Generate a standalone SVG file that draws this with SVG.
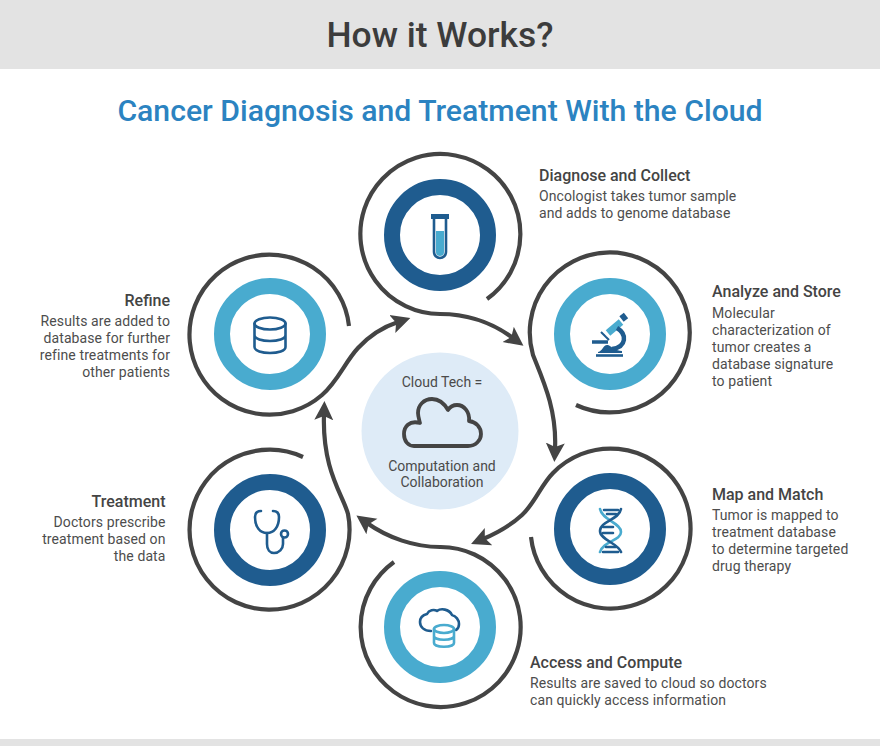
<svg xmlns="http://www.w3.org/2000/svg" width="880" height="746" viewBox="0 0 880 746">
<style>
text{font-family:Roboto,"Liberation Sans",sans-serif;fill:#414141}
.h{font-size:16px;font-weight:500;fill:#444}
.b{font-size:14px;letter-spacing:.1px;fill:#4d4d4d}
.r{text-anchor:end}
.c{text-anchor:middle;font-size:14px;fill:#4a4a4a}
.sp{fill:none;stroke:#444;stroke-width:4.200;marker-end:url(#arrow)}
.rd{fill:#fff;stroke:#1f5c8f;stroke-width:16}
.rl{fill:#fff;stroke:#49abcf;stroke-width:16}
.d{fill:none;stroke:#1f5c8f;stroke-width:2.600;stroke-linecap:round;stroke-linejoin:round}
.l{fill:none;stroke:#49abcf;stroke-width:2.600;stroke-linecap:round;stroke-linejoin:round}
</style>
<defs>
<marker id="arrow" markerUnits="userSpaceOnUse" viewBox="0 0 20 20" refX="6" refY="10" markerWidth="20" markerHeight="20" orient="auto">
<path d="M0 0.500L19 10L0 19.500L4 10Z" fill="#444"/>
</marker>
</defs>
<rect width="880" height="69" fill="#e3e3e3"/>
<rect y="739" width="880" height="7" fill="#e3e3e3"/>
<text x="440" y="47" text-anchor="middle" font-size="35.400" font-weight="500" style="fill:#3c3c3c">How it Works?</text>
<text x="440" y="121" text-anchor="middle" font-size="30.200" font-weight="500" style="fill:#2b83c1">Cancer Diagnosis and Treatment With the Cloud</text>
<g id="connectors">
<path class="sp" d="M487 299A80 80 0 1 0 440 314C465 314 490 321 513 338"/>
<path class="sp" d="M576 405A80 80 0 1 0 533 355C543 380 557 410 555 449"/>
<path class="sp" d="M531 537A80 80 0 1 0 553 473C541 485 535 503 522 515C510 526 497 533 483 539"/>
<path class="sp" d="M394 562A80 80 0 1 0 440 547C415 547 388 538 367 523"/>
<path class="sp" d="M303 457A80 80 0 1 0 348 514C343 495 322 470 324 414"/>
<path class="sp" d="M349 326A80 80 0 1 0 322 395C338 381 345 362 358 348C370 335 383 327 398 322"/>
</g>
<g id="center">
<circle cx="440" cy="431" r="78.500" fill="#deebf7"/>
<text class="c" x="442" y="387">Cloud Tech =</text>
<path d="M414 446H468C476 446 481 440 481 434C481 427 476 422 469 421C470 412 464 405 457 405C453 405 450 407 448 410C444 403 438 399 432 399C424 399 418 405 418 413C418 416 419 419 420 423C409 420 404 427 404 434C404 441 408 446 414 446Z" fill="none" stroke="#444" stroke-width="3.800" stroke-linejoin="round"/>
<text class="c" x="442" y="471">Computation and</text>
<text class="c" x="442" y="487">Collaboration</text>
</g>
<g id="diagnose">
<circle class="rd" cx="440" cy="235" r="48"/>
<rect x="431" y="214" width="18" height="5" fill="#1f5c8f"/>
<path d="M436 231H444V252A4 4 0 0 1 436 252Z" fill="#49abcf"/>
<path class="d" d="M434 219V252A6 6 0 0 0 446 252V219"/>
<text class="h" x="539" y="181">Diagnose and Collect</text>
<text class="b" x="539" y="201">Oncologist takes tumor sample</text>
<text class="b" x="539" y="218">and adds to genome database</text>
</g>
<g id="analyze">
<circle class="rl" cx="610" cy="334" r="48"/>
<path d="M608 333L621 322" stroke="#49abcf" stroke-width="7" fill="none"/>
<path d="M621.500 319L626 315.500" stroke="#1f5c8f" stroke-width="7" fill="none"/>
<path d="M604 335L609 340M601 332L606 337" stroke="#1f5c8f" stroke-width="2" fill="none"/>
<path d="M617 328C627 334 627 347 612 349" stroke="#1f5c8f" stroke-width="4.500" fill="none"/>
<path d="M592 342H608" stroke="#1f5c8f" stroke-width="3.500"/>
<path d="M598 352C603 351 603 344 608 345C612 347 616 351 622 351V353H598Z" fill="#1f5c8f"/>
<path d="M596 355.500H623" stroke="#1f5c8f" stroke-width="2.600"/>
<text class="h" x="712" y="297">Analyze and Store</text>
<text class="b" x="712" y="318">Molecular</text>
<text class="b" x="712" y="335">characterization of</text>
<text class="b" x="712" y="352">tumor creates a</text>
<text class="b" x="712" y="369">database signature</text>
<text class="b" x="712" y="386">to patient</text>
</g>
<g id="map">
<circle class="rd" cx="610" cy="529" r="48"/>
<path class="l" d="M600 509C602 520 621 523 621 532C621 541 603 541 600 552"/>
<path class="d" d="M621 509C619 520 600 521 600 531C600 540 618 543 621 552"/>
<path class="d" stroke-width="2" d="M604 510H618M607 514H616M603 527H613M603 533H613M606 547H616M603 552H618"/>
<text class="h" x="712" y="500">Map and Match</text>
<text class="b" x="712" y="520">Tumor is mapped to</text>
<text class="b" x="712" y="537">treatment database</text>
<text class="b" x="712" y="554">to determine targeted</text>
<text class="b" x="712" y="571">drug therapy</text>
</g>
<g id="access">
<circle class="rl" cx="440" cy="627" r="48"/>
<path class="d" d="M431 631C424 631 420 627 420 622C420 618 423 615 427 614C429 610 434 609 437 611C441 608 449 609 452 615C456 616 459 620 459 624C459 627 458 629 456 630"/>
<ellipse class="l" cx="444" cy="629" rx="10" ry="4"/>
<path class="l" d="M434 629V643C434 648 454 648 454 643V629M434 636C434 641 454 641 454 636"/>
<text class="h" x="530" y="668">Access and Compute</text>
<text class="b" x="530" y="688">Results are saved to cloud so doctors</text>
<text class="b" x="530" y="705">can quickly access information</text>
</g>
<g id="treatment">
<circle class="rd" cx="270" cy="530" r="48"/>
<path class="d" d="M261 511C257 511 255 513 255 517C255 527 260 533 267 533C274 533 279 527 279 517C279 513 277 511 273 511"/>
<path class="d" d="M267 533V544C267 550 270 553 274 553C279 553 283 549 283 544V538"/>
<circle class="d" cx="284.500" cy="534" r="3.500"/>
<text class="h r" x="165.500" y="507">Treatment</text>
<text class="b r" x="165.500" y="527">Doctors prescribe</text>
<text class="b r" x="165.500" y="544">treatment based on</text>
<text class="b r" x="165.500" y="561">the data</text>
</g>
<g id="refine">
<circle class="rl" cx="270" cy="334" r="48"/>
<ellipse class="d" cx="270" cy="323.500" rx="15.500" ry="6"/>
<path class="d" d="M254.500 323.500V347C254.500 355 285.500 355 285.500 347V323.500M254.500 335C254.500 343 285.500 343 285.500 335"/>
<text class="h r" x="170" y="306">Refine</text>
<text class="b r" x="170" y="326">Results are added to</text>
<text class="b r" x="170" y="343">database for further</text>
<text class="b r" x="170" y="360">refine treatments for</text>
<text class="b r" x="170" y="377">other patients</text>
</g>
</svg>
